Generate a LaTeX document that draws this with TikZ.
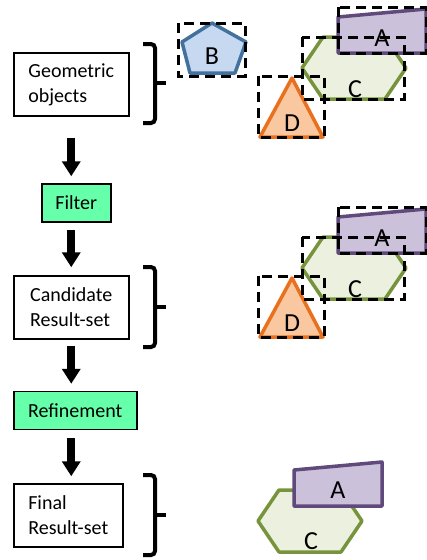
\documentclass[tikz,border=0pt]{standalone}
\usepackage{fontspec}
\setmainfont{Carlito}
\usepackage{tikz}
\usetikzlibrary{arrows.meta}

\definecolor{opgreen}{RGB}{102,255,170}
\definecolor{bfill}{RGB}{198,217,241}
\definecolor{bline}{RGB}{65,113,156}
\definecolor{cfill}{RGB}{235,241,222}
\definecolor{cline}{RGB}{119,147,60}
\definecolor{afill}{RGB}{204,193,218}
\definecolor{aline}{RGB}{96,74,123}
\definecolor{dfill}{RGB}{250,200,160}
\definecolor{dline}{RGB}{232,112,30}

\begin{document}
\begin{tikzpicture}[x=1pt, y=-1pt]
\useasboundingbox (0,0) rectangle (427,560);

\tikzstyle{every node} = [font=\fontsize{20}{25}\selectfont]
\tikzstyle{stage} = [draw, line width=1.5pt, align=left, anchor=west, minimum height=63pt, inner sep=0pt]
\tikzstyle{op} = [stage, fill=opgreen, minimum height=38pt]
\tikzstyle{flow} = [line width=8pt, -{Triangle[width=18pt,length=15pt]}]
\tikzstyle{brace} = [line width=4pt, rounded corners=4pt]
\tikzstyle{mbr} = [line width=3pt, dash pattern=on 10pt off 6pt]
\tikzstyle{lbl} = [font=\fontsize{26}{26}\selectfont, inner sep=0pt]
\tikzstyle{shp} = [line width=3.5pt, line join=round]

% left column
\node[stage, minimum width=115pt] (g) at (13,84.5) {Geometric\\objects};
\node[op, minimum width=69pt] (f) at (41,203) {Filter};
\node[stage, minimum width=115pt] (c) at (13,307.5) {Candidate\\Result-set};
\node[op, minimum width=123pt] (r) at (13,410.5) {Refinement};
\node[stage, minimum width=109pt] (fr) at (13,515.5) {Final\\Result-set};

\draw[flow, shorten <=21pt, shorten >=7pt] (g.south) -- (g.south |- f.north);
\draw[flow, shorten <=7pt, shorten >=8pt] (c.north |- f.south) -- (c.north);
\draw[flow, shorten <=6pt, shorten >=7pt] (c.south) -- (c.south |- r.north);
\draw[flow, shorten <=8pt, shorten >=7pt] (c.south |- r.south) -- (c.south |- fr.north);

% braces
\draw[brace] (143,44) -- (155,44) -- (155,123) -- (143,123);
\draw[brace] (155,83) -- (166,83);
\draw[brace] (143,267) -- (155,267) -- (155,347) -- (143,347);
\draw[brace] (155,307) -- (166,307);
\draw[brace] (143,475) -- (155,475) -- (155,555) -- (143,555);
\draw[brace] (155,515) -- (166,515);

% objects
\filldraw[shp, draw=bline, fill=bfill] (212,23) -- (246,42) -- (235,73) -- (190,73) -- (182,42) -- cycle;
\node[lbl] (b1) at (212,56) {B};
\foreach \dy/\i in {0/1, 200/2} {
  \begin{scope}[shift={(0,\dy)}]
    \filldraw[shp, draw=dline, fill=dfill] (292,78) -- (323,137) -- (260,137) -- cycle;
    \filldraw[shp, draw=cline, fill=cfill] (302,68) -- (323,37) -- (385,37) -- (406,68) -- (385,99) -- (323,99) -- cycle;
    \filldraw[shp, draw=aline, fill=afill] (338,17) -- (426,9) -- (426,53) -- (338,53) -- cycle;
    \node[lbl] (a\i) at (382,38) {A};
    \node[lbl] (c\i) at (355,89) {C};
    \node[lbl] (d\i) at (292,123) {D};
    \draw[mbr] (258,76) rectangle (324,137);
    \draw[mbr] (302,37) rectangle (404,99);
    \draw[mbr] (338,7) rectangle (426,53);
  \end{scope}
}
\draw[mbr] (178,23) rectangle (245,76);

\begin{scope}[shift={(-44,453)}]
  \filldraw[shp, draw=cline, fill=cfill] (302,68) -- (323,37) -- (385,37) -- (406,68) -- (385,99) -- (323,99) -- cycle;
  \filldraw[shp, draw=aline, fill=afill] (338,17) -- (426,9) -- (426,53) -- (338,53) -- cycle;
  \node[lbl] (a3) at (382,37) {A};
  \node[lbl] (c3) at (355,88) {C};
\end{scope}
\end{tikzpicture}
\end{document}
